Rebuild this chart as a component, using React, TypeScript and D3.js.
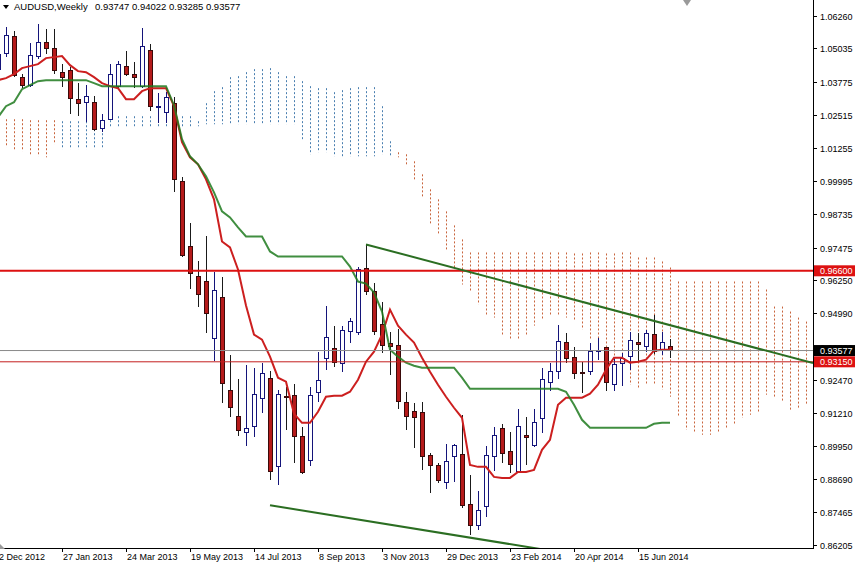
import React from 'react'
import * as d3 from 'd3'

// AUDUSD weekly, first bar = week of 2 Dec 2012
const opens = [
  1.04245, 1.04853, 1.05499, 1.03941, 1.03638, 1.04739, 1.05271, 1.05043, 1.04131, 1.04207,
  1.03106, 1.02992, 1.02992, 1.02004, 1.02346, 1.036, 1.04359, 1.04055, 1.036, 1.04967,
  1.02802, 1.02612, 1.02954, 0.99992, 0.97523, 0.96383, 0.96194, 0.94029, 0.95586, 0.92054,
  0.91066, 0.90459, 0.90686, 0.9175, 0.92509, 0.89167, 0.91826, 0.91864, 0.90307, 0.89395,
  0.91978, 0.93269, 0.93649, 0.93079, 0.94295, 0.94257, 0.96687, 0.95814, 0.9456, 0.93839,
  0.93763, 0.91598, 0.91256, 0.91218, 0.89585, 0.89205, 0.8856, 0.89547, 0.89623, 0.87724,
  0.86926, 0.87648, 0.89547, 0.9061, 0.89737, 0.88977, 0.90345, 0.89965, 0.9099, 0.92358,
  0.92775, 0.93877, 0.93307, 0.92737, 0.92775, 0.93554, 0.93687, 0.92282, 0.93079, 0.93345,
  0.93877, 0.93725, 0.94181, 0.93573, 0.93747,
]
const highs = [
  1.05005, 1.0584, 1.05689, 1.04055, 1.05233, 1.05954, 1.05765, 1.05765, 1.04435, 1.04321,
  1.03714, 1.03638, 1.0322, 1.02536, 1.04435, 1.04549, 1.04929, 1.04511, 1.05802, 1.05195,
  1.03334, 1.03372, 1.03182, 1.00143, 0.98396, 0.96953, 0.97903, 0.96573, 0.96383, 0.93421,
  0.92509, 0.93041, 0.92927, 0.93117, 0.92813, 0.92092, 0.92206, 0.9232, 0.90686, 0.92206,
  0.93535, 0.95282, 0.94522, 0.94522, 0.94826, 0.96763, 0.97599, 0.96156, 0.95434, 0.94295,
  0.94408, 0.92016, 0.91598, 0.91636, 0.89699, 0.89319, 0.90041, 0.90041, 0.91142, 0.88863,
  0.88256, 0.89965, 0.90686, 0.908, 0.90497, 0.9137, 0.91066, 0.9137, 0.92927, 0.93117,
  0.9456, 0.94257, 0.93725, 0.93155, 0.93877, 0.94067, 0.93725, 0.93269, 0.93497, 0.94295,
  0.94257, 0.94371, 0.9494, 0.94295, 0.94022,
]
const lows = [
  1.04055, 1.04701, 1.03941, 1.03524, 1.03562, 1.04625, 1.04815, 1.04055, 1.03562, 1.02536,
  1.0246, 1.02232, 1.01891, 1.01853, 1.02308, 1.03524, 1.03979, 1.03524, 1.03524, 1.0265,
  1.02194, 1.02194, 0.99574, 0.97105, 0.95928, 0.95244, 0.94257, 0.93193, 0.91598, 0.91066,
  0.90345, 0.89965, 0.90307, 0.91218, 0.88674, 0.88484, 0.90573, 0.89319, 0.88901, 0.89205,
  0.91636, 0.92851, 0.92965, 0.92775, 0.93877, 0.94181, 0.957, 0.94181, 0.93497, 0.92661,
  0.9137, 0.90573, 0.89889, 0.89053, 0.8818, 0.8856, 0.88332, 0.88598, 0.8761, 0.86585,
  0.86775, 0.87268, 0.89015, 0.89319, 0.88939, 0.88939, 0.89243, 0.89927, 0.90459, 0.92054,
  0.92509, 0.93117, 0.92509, 0.91978, 0.92661, 0.93231, 0.92054, 0.92054, 0.92244, 0.92851,
  0.93155, 0.93535, 0.93459, 0.93421, 0.93285,
]
const closes = [
  1.04815, 1.05537, 1.04017, 1.03638, 1.04777, 1.05271, 1.05043, 1.04207, 1.03941, 1.03144,
  1.02954, 1.0322, 1.01967, 1.02308, 1.04055, 1.04435, 1.04055, 1.03941, 1.05119, 1.0284,
  1.02821, 1.03182, 1.00068, 0.97181, 0.96497, 0.957, 0.94978, 0.95852, 0.9232, 0.91408,
  0.90535, 0.9061, 0.91902, 0.92699, 0.88977, 0.91902, 0.91788, 0.90307, 0.88939, 0.91864,
  0.92434, 0.94067, 0.93117, 0.94333, 0.94674, 0.96649, 0.95814, 0.94295, 0.93763, 0.93725,
  0.91636, 0.91066, 0.91028, 0.89547, 0.89205, 0.88636, 0.89357, 0.89965, 0.87686, 0.86926,
  0.87496, 0.89585, 0.90345, 0.89661, 0.89243, 0.90686, 0.90269, 0.90838, 0.92472, 0.92775,
  0.93915, 0.93269, 0.92699, 0.92699, 0.93535, 0.93573, 0.92358, 0.93041, 0.93269, 0.93953,
  0.93801, 0.94219, 0.93535, 0.93877, 0.93577,
]

// Ichimoku lines, one value per bar
const tenkan = [
  1.03828, 1.03904, 1.04055, 1.04283, 1.04359, 1.04435, 1.04663, 1.04701, 1.04739, 1.04397,
  1.04169, 1.04131, 1.03941, 1.03714, 1.036, 1.03524, 1.03106, 1.03106, 1.0341, 1.03524,
  1.03524, 1.03524, 1.0284, 1.01473, 1.00903, 1.00637, 1.00068, 0.99308, 0.97713, 0.97485,
  0.96649, 0.95282, 0.94181, 0.93991, 0.93345, 0.92548, 0.92396, 0.9118, 0.90838, 0.90838,
  0.91256, 0.91826, 0.91864, 0.91864, 0.92016, 0.92472, 0.93155, 0.93535, 0.94181, 0.9513,
  0.94522, 0.94181, 0.93877, 0.93307, 0.92775, 0.92282, 0.91826, 0.91408, 0.91028, 0.89243,
  0.89167, 0.89167, 0.88787, 0.88749, 0.88749, 0.88977, 0.88977, 0.89053, 0.89813, 0.90193,
  0.91522, 0.91788, 0.91788, 0.91788, 0.9194, 0.92282, 0.92851, 0.93307, 0.93307, 0.93117,
  0.93155, 0.93231, 0.93573, 0.93611, 0.93611,
]
const kijun = [
  1.02422, 1.0284, 1.02992, 1.03486, 1.03638, 1.0379, 1.03828, 1.03828, 1.03828, 1.03828,
  1.03828, 1.03828, 1.03714, 1.036, 1.036, 1.036, 1.036, 1.036, 1.036, 1.036,
  1.036, 1.036, 1.02878, 1.01587, 1.00941, 1.00637, 1.00182, 0.99574, 0.98852, 0.98624,
  0.98245, 0.97903, 0.97903, 0.97903, 0.97333, 0.97143, 0.97143, 0.97143, 0.97143, 0.97143,
  0.97143, 0.97143, 0.97143, 0.97143, 0.96763, 0.96194, 0.96118, 0.95776, 0.95054, 0.93611,
  0.93345, 0.93117, 0.93003, 0.92927, 0.92927, 0.92927, 0.92927, 0.92927, 0.92548, 0.9213,
  0.9213, 0.9213, 0.9213, 0.9213, 0.9213, 0.9213, 0.9213, 0.9213, 0.9213, 0.9213,
  0.9213, 0.92016, 0.91522, 0.90952, 0.90649, 0.90649, 0.90649, 0.90649, 0.90649, 0.90649,
  0.90649, 0.90649, 0.908, 0.90838, 0.90838,
]
// Senkou spans (already shifted 26 bars ahead), bar 0 .. 101
const spanA = [
  1.01283, 1.01283, 1.01207, 1.01131, 1.01017, 1.00941, 1.00903, 1.01397, 1.0227, 1.0227,
  1.0227, 1.0227, 1.0227, 1.0227, 1.0246, 1.0246, 1.0246, 1.0246, 1.0246, 1.0246,
  1.0246, 1.0246, 1.0246, 1.0246, 1.0246, 1.0227, 1.02954, 1.0341, 1.03562, 1.03941,
  1.03979, 1.04131, 1.04245, 1.04245, 1.04283, 1.04131, 1.03979, 1.03979, 1.0379, 1.036,
  1.03524, 1.03524, 1.03372, 1.03448, 1.03524, 1.03562, 1.03562, 1.03562, 1.0284, 1.01511,
  1.00903, 1.00561, 1.00068, 0.99422, 0.98359, 0.97979, 0.97409, 0.96649, 0.9608, 0.95814,
  0.9532, 0.94902, 0.94826, 0.94143, 0.94029, 0.94029, 0.94181, 0.94522, 0.9475, 0.94902,
  0.94902, 0.94826, 0.94712, 0.94371, 0.93991, 0.93877, 0.93231, 0.92927, 0.92548, 0.92282,
  0.92168, 0.9232, 0.92282, 0.92092, 0.91826, 0.91066, 0.90573, 0.90459, 0.90383, 0.90383,
  0.90497, 0.90649, 0.908, 0.91028, 0.91142, 0.91218, 0.91902, 0.91788, 0.91636, 0.91332,
  0.91408, 0.9156,
]
const spanB = [
  1.02346, 1.02346, 1.02346, 1.02346, 1.02308, 1.02308, 1.02308, 1.02308, 1.01207, 1.01207,
  1.01207, 1.01207, 1.01207, 1.01207, 1.0208, 1.0208, 1.0208, 1.0208, 1.0208, 1.0208,
  1.0208, 1.0208, 1.0208, 1.0208, 1.0208, 1.0208, 1.02156, 1.02156, 1.02156, 1.02156,
  1.02156, 1.02156, 1.02156, 1.02156, 1.02156, 1.02156, 1.02156, 1.02156, 1.01587, 1.01017,
  1.01093, 1.01093, 1.00941, 1.00941, 1.00941, 1.00941, 1.00941, 1.00941, 1.01017, 1.00941,
  1.01093, 1.01017, 1.00751, 1.00257, 0.99688, 0.99308, 0.98852, 0.98321, 0.97789, 0.97295,
  0.97295, 0.97295, 0.97295, 0.97295, 0.97295, 0.97295, 0.97295, 0.97295, 0.97295, 0.97295,
  0.97295, 0.97295, 0.97257, 0.97257, 0.97295, 0.97295, 0.97257, 0.97257, 0.97295, 0.97295,
  0.97105, 0.97105, 0.97105, 0.96953, 0.96725, 0.96194, 0.96194, 0.96194, 0.96194, 0.96194,
  0.96194, 0.96194, 0.96194, 0.96194, 0.96194, 0.96194, 0.9589, 0.95244, 0.95244, 0.95054,
  0.94826, 0.94674,
]

const dateLabels = [
  '2 Dec 2012', '27 Jan 2013', '24 Mar 2013', '19 May 2013', '14 Jul 2013', '8 Sep 2013',
  '3 Nov 2013', '29 Dec 2013', '23 Feb 2014', '20 Apr 2014', '15 Jun 2014',
]
const priceTicks = [
  '1.06260', '1.05035', '1.03775', '1.02515', '1.01255', '0.99995', '0.98735', '0.97475',
  '0.96250', '0.94990', '0.93730', '0.92470', '0.91210', '0.89950', '0.88690', '0.87465', '0.86205',
]

const resistance = 0.966
const support = 0.9315
const lastPrice = 0.93577
// trend lines: [bar, price]
const upperTrend: [number, number][] = [[46, 0.976], [84, 0.9454]]
const lowerTrend: [number, number][] = [[34, 0.87712], [66, 0.8614]]

const W = 855
const H = 563
const plotRight = 813
const plotBottom = 548
const font = '"Liberation Sans", Arial, sans-serif'

export default function App() {
  const x = d3.scaleLinear().domain([0, 100]).range([-2, 798])
  const y = d3.scaleLinear().domain([0.86205, 1.0626]).range([545, 16])

  const line = d3
    .line<number>()
    .x((_, i) => x(i))
    .y((v) => y(v))

  const extend = (pts: [number, number][], toBar: number) => {
    const [[b0, p0], [b1, p1]] = pts
    const slope = (p1 - p0) / (b1 - b0)
    return `M${x(b0)},${y(p0)}L${x(toBar)},${y(p0 + slope * (toBar - b0))}`
  }
  const lastBar = x.invert(plotRight)

  return (
    <svg
      width={W}
      height={H}
      style={{ position: 'absolute', left: 0, top: 0, background: '#fff' }}
      fontFamily={font}
    >
      <defs>
        <clipPath id="plot">
          <rect x={0} y={0} width={plotRight} height={plotBottom} />
        </clipPath>
      </defs>
      <rect width={W} height={H} fill="#fff" />

      <g clipPath="url(#plot)">
        {/* cloud hatching */}
        {spanA.map((a, j) => {
          const b = spanB[j]
          const cx = Math.round(x(j)) + 0.5
          return (
            <line
              key={`k${j}`}
              x1={cx}
              x2={cx}
              y1={y(Math.max(a, b))}
              y2={y(Math.min(a, b))}
              stroke={a >= b ? '#4a7fb0' : '#c8643c'}
              strokeWidth={1}
              strokeDasharray="2,2"
            />
          )
        })}

        {/* candles */}
        {opens.map((o, i) => {
          const c = closes[i]
          const bull = c >= o
          const cx = Math.round(x(i))
          const top = y(Math.max(o, c))
          const bot = y(Math.min(o, c))
          return (
            <g key={`c${i}`} shapeRendering="crispEdges">
              <line
                x1={cx + 0.5}
                x2={cx + 0.5}
                y1={y(highs[i])}
                y2={y(lows[i])}
                stroke={bull ? '#14147a' : '#1a1a1a'}
              />
              <rect
                x={cx - 1.5}
                y={top}
                width={4}
                height={Math.max(1, bot - top)}
                fill={bull ? '#fff' : '#b51a1a'}
                stroke={bull ? '#14147a' : '#3a0a0a'}
              />
            </g>
          )
        })}

        <path d={line(tenkan) || ''} fill="none" stroke="#cc1f1f" strokeWidth={2} />
        <path d={line(kijun) || ''} fill="none" stroke="#1f7a1f" strokeWidth={2} strokeOpacity={0.85} />

        {/* levels */}
        <line x1={0} x2={plotRight} y1={y(lastPrice)} y2={y(lastPrice)} stroke="#8a8a8a" strokeWidth={1} />
        <line x1={0} x2={plotRight} y1={y(support)} y2={y(support)} stroke="#c41e1e" strokeWidth={1} />
        <line x1={0} x2={plotRight} y1={y(resistance)} y2={y(resistance)} stroke="#dd1111" strokeWidth={2} />

        <path d={extend(upperTrend, lastBar)} fill="none" stroke="#2b6e22" strokeWidth={2} />
        <path d={extend(lowerTrend, 72)} fill="none" stroke="#2b6e22" strokeWidth={2} />
      </g>

      {/* axes */}
      <g shapeRendering="crispEdges" stroke="#000">
        <line x1={plotRight + 0.5} x2={plotRight + 0.5} y1={0} y2={plotBottom + 1} />
        <line x1={0} x2={plotRight + 1} y1={plotBottom + 0.5} y2={plotBottom + 0.5} />
      </g>
      {priceTicks.map((t) => {
        const ty = Math.round(y(+t))
        return (
          <g key={t}>
            <line x1={plotRight} x2={plotRight + 4} y1={ty + 0.5} y2={ty + 0.5} stroke="#000" shapeRendering="crispEdges" />
            <text x={plotRight + 7} y={ty + 3.5} fontSize={9} fill="#000">
              {t}
            </text>
          </g>
        )
      })}
      {dateLabels.map((d, k) => {
        const tx = Math.round(x(k * 8))
        return (
          <g key={d}>
            <line x1={tx + 0.5} x2={tx + 0.5} y1={plotBottom} y2={plotBottom + 4} stroke="#000" shapeRendering="crispEdges" />
            <text x={tx + 1} y={560} fontSize={9} fill="#000">
              {d}
            </text>
          </g>
        )
      })}

      {/* price labels on the axis */}
      {[
        { v: resistance, bg: '#dd1111' },
        { v: lastPrice, bg: '#000' },
        { v: support, bg: '#dd1111' },
      ].map(({ v, bg }) => (
        <g key={v}>
          <rect x={plotRight + 1} y={y(v) - 5.5} width={W - plotRight - 1} height={11} fill={bg} />
          <text x={plotRight + 7} y={y(v) + 3.5} fontSize={9} fill="#fff">
            {v.toFixed(5)}
          </text>
        </g>
      ))}

      {/* header */}
      <path d="M3,5L9,5L6,9Z" fill="#000" />
      <text x={14} y={10} fontSize={9.5} fill="#000">
        AUDUSD,Weekly
      </text>
      <text x={95} y={10} fontSize={9.5} fill="#000">
        {[opens[84], highs[84], lows[84], closes[84]].map((v) => v.toFixed(5)).join(' ')}
      </text>

      {/* chart shift marker */}
      <path d="M683,0L691,0L687,6Z" fill="#9a9a9a" />
      <path d="M0,544L5,549L0,549Z" fill="#9a9a9a" />
    </svg>
  )
}
